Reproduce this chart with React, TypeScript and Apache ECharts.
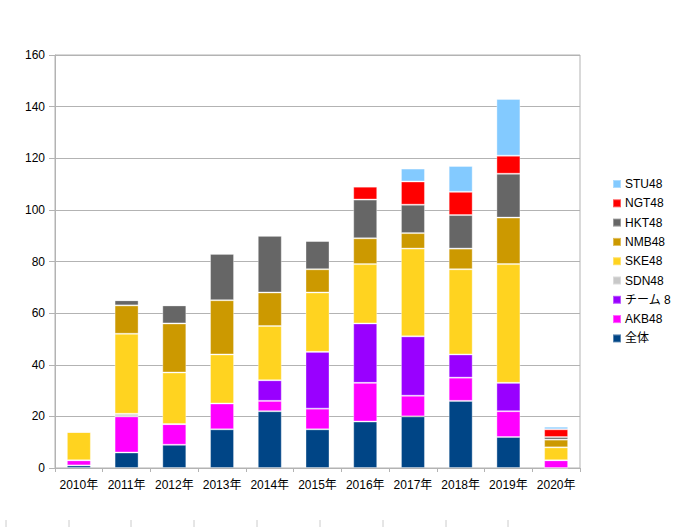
import React, { useEffect, useRef } from "react";
import * as echarts from "echarts";

const categories = ["2010年", "2011年", "2012年", "2013年", "2014年", "2015年", "2016年", "2017年", "2018年", "2019年", "2020年"];
const seriesNames = ["全体", "AKB48", "チーム 8", "SDN48", "SKE48", "NMB48", "HKT48", "NGT48", "STU48"];
const zentai = [1, 6, 9, 15, 22, 15, 18, 20, 26, 12, 0];
const akb48 = [2, 14, 8, 10, 4, 8, 15, 8, 9, 10, 3];
const team8 = [0, 0, 0, 0, 8, 22, 23, 23, 9, 11, 0];
const sdn48 = [0, 1, 0, 0, 0, 0, 0, 0, 0, 0, 0];
const ske48 = [11, 31, 20, 19, 21, 23, 23, 34, 33, 46, 5];
const nmb48 = [0, 11, 19, 21, 13, 9, 10, 6, 8, 18, 3];
const hkt48 = [0, 2, 7, 18, 22, 11, 15, 11, 13, 17, 1];
const ngt48 = [0, 0, 0, 0, 0, 0, 5, 9, 9, 7, 3];
const stu48 = [0, 0, 0, 0, 0, 0, 0, 5, 10, 22, 1];
const seriesData = [zentai, akb48, team8, sdn48, ske48, nmb48, hkt48, ngt48, stu48];
const colors = ["#004586", "#ff00ff", "#9900ff", "#c8c8c8", "#ffd320", "#cc9900", "#666666", "#ff0000", "#83caff"];
const yTicks = [0, 20, 40, 60, 80, 100, 120, 140, 160];
const pageTickX = [6, 69, 131, 194, 257, 320, 383, 446, 508];

const FONT = "'Liberation Sans', Arial, 'Noto Sans CJK JP', sans-serif";

export default function App() {
  const ref = useRef<HTMLDivElement>(null);
  useEffect(() => {
    if (!ref.current) return;
    const chart = echarts.init(ref.current, undefined, { renderer: "svg" });
    chart.setOption({
      animation: false,
      backgroundColor: "#ffffff",
      textStyle: { fontFamily: FONT },
      grid: { left: 55, right: 94, top: 55, bottom: 59, show: true, borderColor: "#b3b3b3", borderWidth: 1 },
      legend: {
        orient: "vertical",
        left: 607,
        top: 173,
        itemWidth: 8,
        itemHeight: 8,
        itemGap: 7.3,
        icon: "rect",
        data: seriesNames.slice().reverse(),
        textStyle: { fontSize: 12, color: "#000000", fontFamily: FONT, padding: [0, 0, 0, -1] },
      },
      xAxis: {
        type: "category",
        data: categories,
        axisLine: { lineStyle: { color: "#b3b3b3" } },
        axisTick: { show: true, length: 4, lineStyle: { color: "#b3b3b3" } },
        axisLabel: { color: "#000000", fontSize: 12, margin: 11, interval: 0, fontFamily: FONT },
      },
      yAxis: {
        type: "value",
        min: yTicks[0],
        max: yTicks[yTicks.length - 1],
        interval: 20,
        axisLine: { show: true, lineStyle: { color: "#b3b3b3" } },
        axisTick: { show: true, length: 6, lineStyle: { color: "#b3b3b3" } },
        axisLabel: { color: "#000000", fontSize: 12, margin: 10, fontFamily: FONT },
        splitLine: { lineStyle: { color: "#b3b3b3" } },
      },
      series: seriesNames.map((name, i) => ({
        name,
        type: "bar",
        stack: "total",
        barWidth: 24,
        data: seriesData[i],
        itemStyle: { color: colors[i], borderColor: "rgba(255,255,255,0.35)", borderWidth: 1 },
      })),
      graphic: pageTickX.map((x) => ({
        type: "line",
        shape: { x1: x, y1: 520, x2: x, y2: 527 },
        style: { stroke: "#cccccc", lineWidth: 1 },
      })),
    });
    return () => chart.dispose();
  }, []);
  return <div ref={ref} style={{ position: "absolute", left: 0, top: 0, width: 674, height: 527 }} />;
}
